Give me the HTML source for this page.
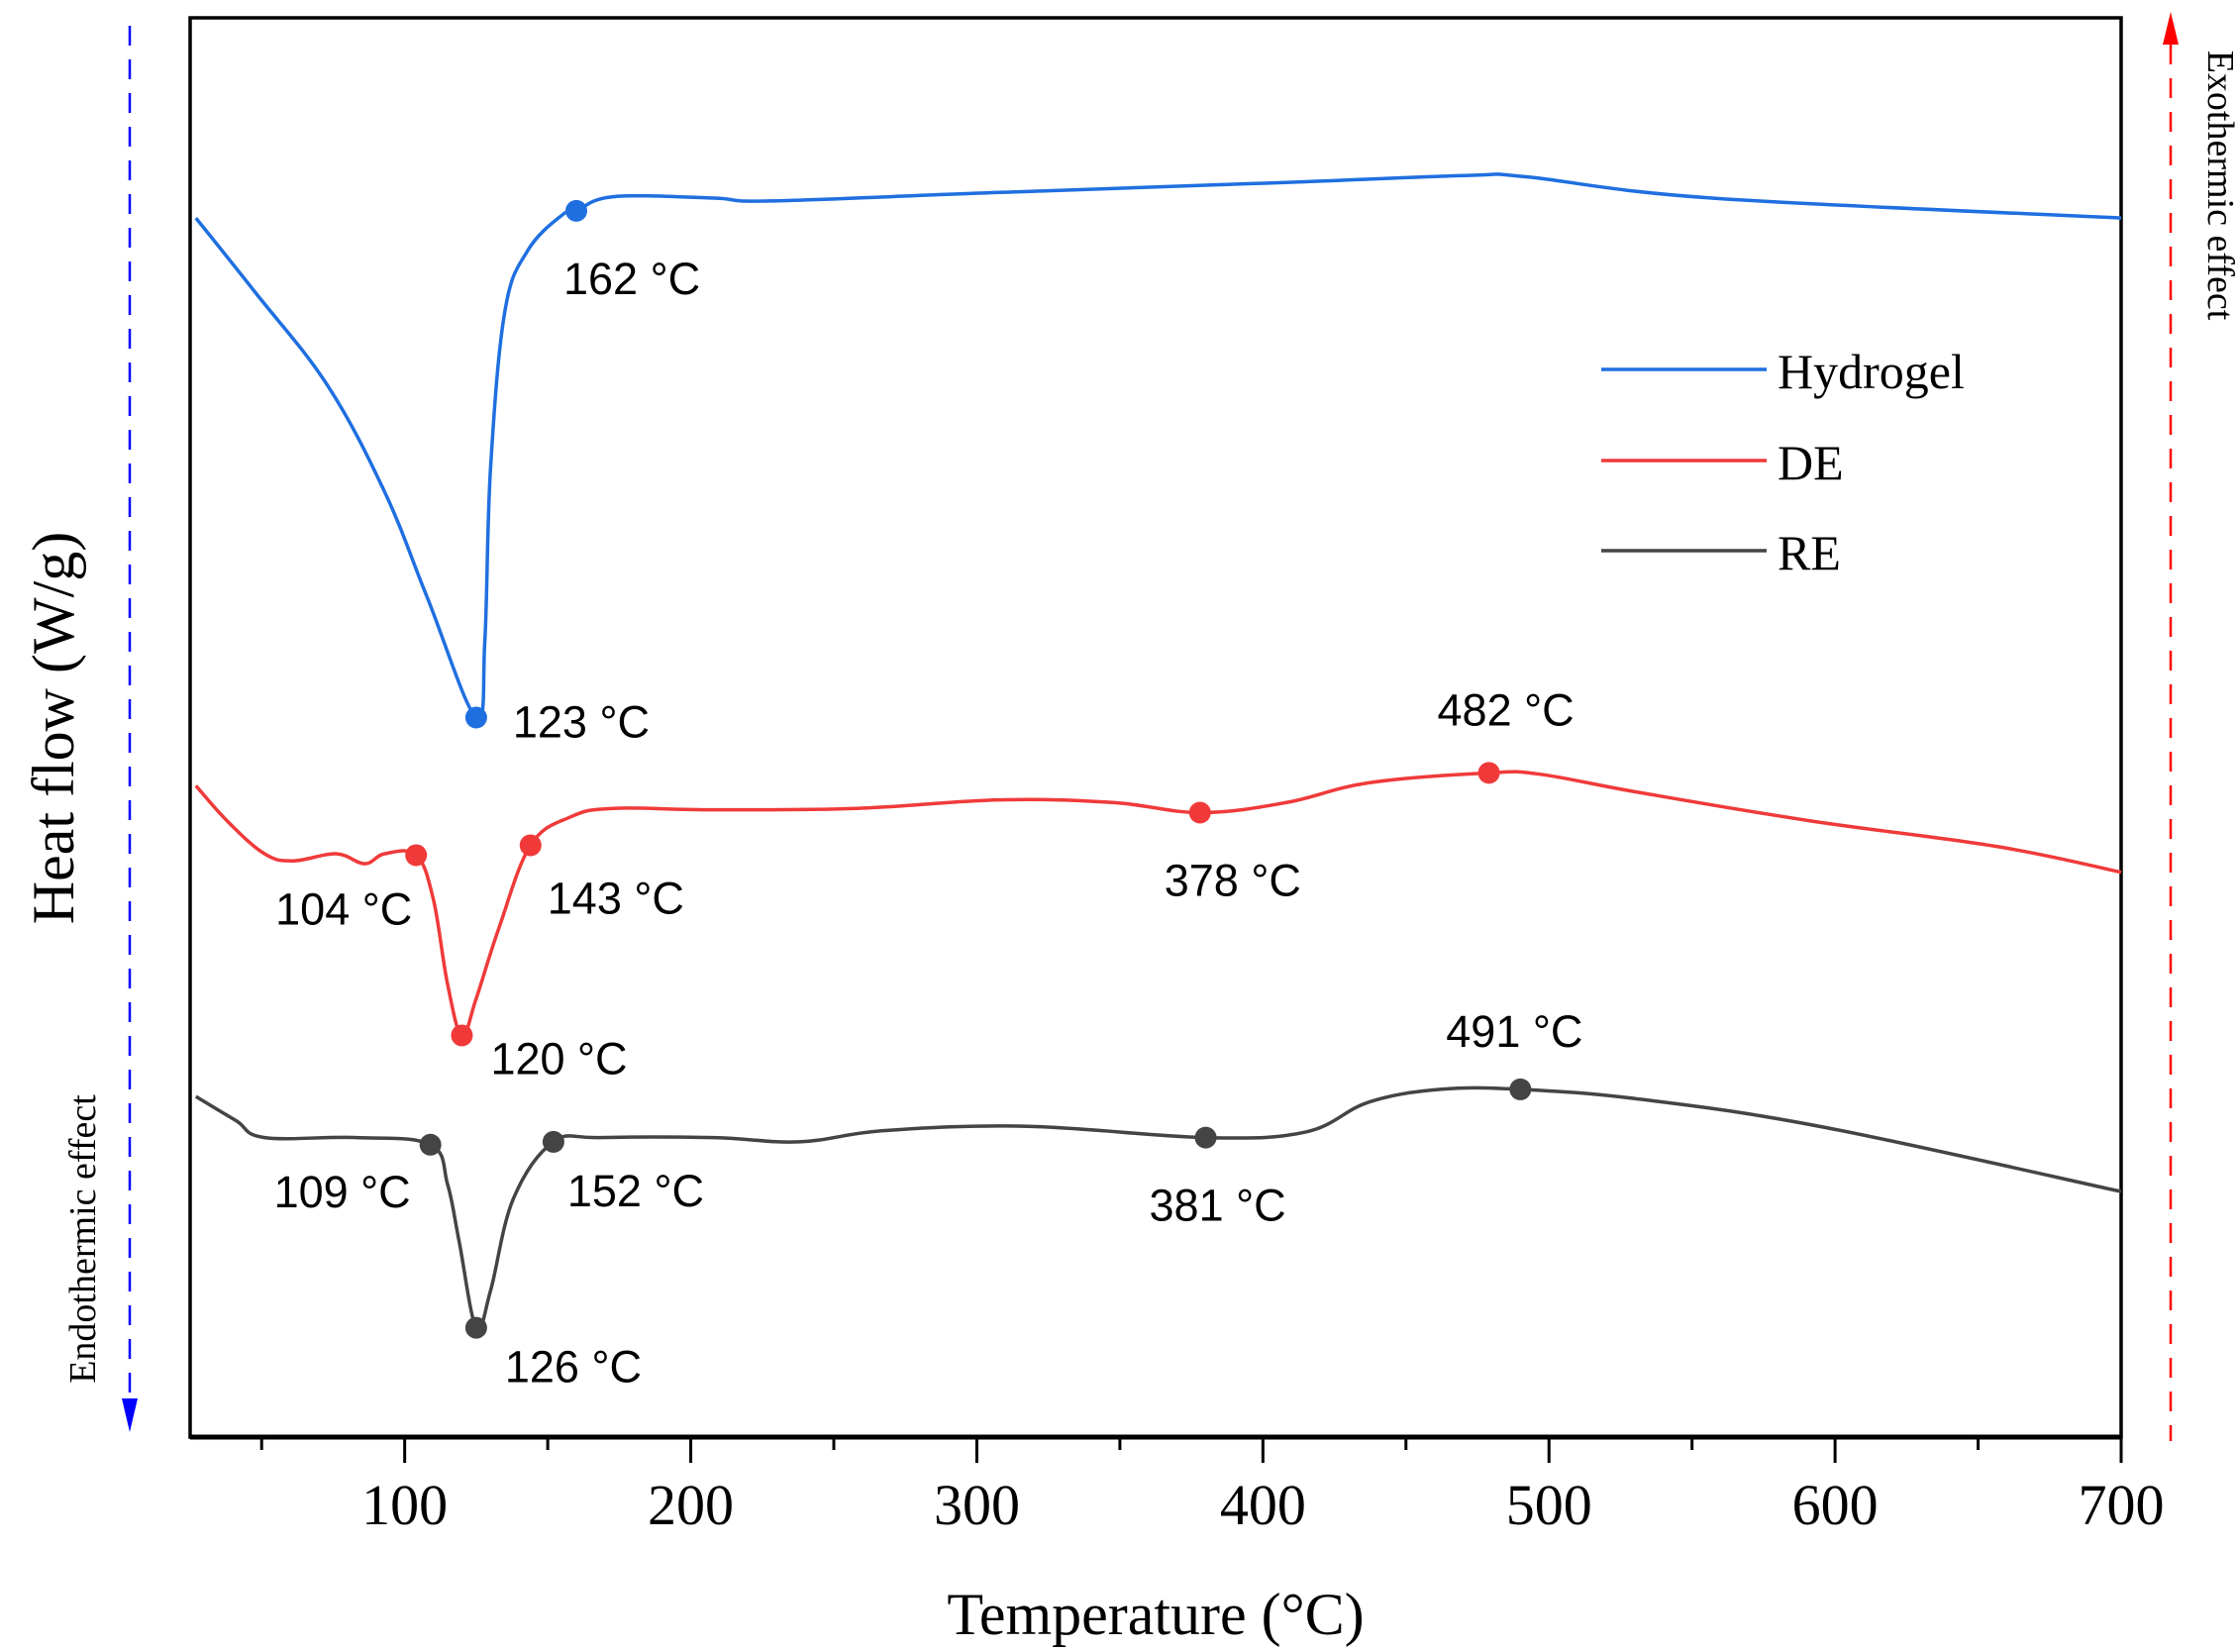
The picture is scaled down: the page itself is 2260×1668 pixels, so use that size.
<!DOCTYPE html>
<html><head><meta charset="utf-8"><style>
html,body{margin:0;padding:0;background:#fff;}
svg{display:block;}
</style></head><body>
<svg id="chart" width="2260" height="1668" viewBox="0 0 2260 1668" xmlns="http://www.w3.org/2000/svg">
<rect width="2260" height="1668" fill="#fff"/>
<g id="plot"></g>
</svg>
<script>
// ---- data ----
const hydrogelT = [27,48,73,93,108,125,128,130,135,143,155,160,173,208,228,308,408,472,492,557,700];
const hydrogelV = [85.9,80.6,74.1,66.6,59.1,50.7,56.1,68.2,79.3,83.6,86.1,86.4,87.4,87.3,87.1,87.7,88.4,88.9,88.8,87.3,85.9];
const deT = [27,38,51,61,76,86,93,104,110,115,120,125,133,144,158,173,208,258,308,348,378,408,437,479,497,532,592,657,700];
const deV = [45.9,43.4,41.1,40.6,41.1,40.4,41.1,41.0,37.9,31.9,28.3,30.9,35.9,41.7,43.7,44.3,44.2,44.3,44.9,44.7,44.0,44.7,46.1,46.8,46.7,45.4,43.4,41.6,39.8];
const reT = [27,41,51,83,109,115,119,125,130,138,152,168,208,238,268,318,380,415,437,462,490,532,597,700];
const reV = [24.0,22.3,21.1,21.1,20.6,17.8,13.8,7.7,10.3,16.8,20.8,21.1,21.1,20.8,21.6,21.9,21.1,21.5,23.6,24.5,24.5,23.8,21.8,17.3];
const hydrogelPeakT = [125,160];
const hydrogelPeakV = [50.7,86.4];
const hydrogelPeakLabels = ["123 °C","162 °C"];
const dePeakT = [104,120,144,378,479];
const dePeakV = [41.0,28.3,41.7,44.0,46.8];
const dePeakLabels = ["104 °C","120 °C","143 °C","378 °C","482 °C"];
const rePeakT = [109,125,152,380,490];
const rePeakV = [20.6,7.7,20.8,21.1,24.5];
const rePeakLabels = ["109 °C","126 °C","152 °C","381 °C","491 °C"];
const xTicks = [100,200,300,400,500,600,700];
const xMinorTicks = [50,150,250,350,450,550,650];
const seriesNames = ["Hydrogel","DE","RE"];

// ---- layout ----
const L=192,R=2142,T=18,B=1451;
const X0=25,X1=700,Y0=0,Y1=100;
function xs(v){return L+(v-X0)/(X1-X0)*(R-L);}
function ys(v){return B-(v-Y0)/(Y1-Y0)*(B-T);}
const NS="http://www.w3.org/2000/svg";
const g=document.getElementById('plot');
function mk(tag,attrs,parent){const e=document.createElementNS(NS,tag);for(const k in attrs)e.setAttribute(k,attrs[k]);(parent||g).appendChild(e);return e;}
function txt(s,attrs){const e=mk('text',attrs);e.textContent=s;return e;}

function smoothPath(px,py){
  let d='M'+px[0].toFixed(1)+','+py[0].toFixed(1);
  for(let i=0;i<px.length-1;i++){
    const x0=px[Math.max(i-1,0)],y0=py[Math.max(i-1,0)];
    const x1=px[i],y1=py[i],x2=px[i+1],y2=py[i+1];
    const x3=px[Math.min(i+2,px.length-1)],y3=py[Math.min(i+2,px.length-1)];
    const t=0.18;
    d+=' C'+(x1+(x2-x0)*t).toFixed(1)+','+(y1+(y2-y0)*t).toFixed(1)+' '+(x2-(x3-x1)*t).toFixed(1)+','+(y2-(y3-y1)*t).toFixed(1)+' '+x2.toFixed(1)+','+y2.toFixed(1);
  }
  return d;
}

// frame
const frame=mk('rect',{x:L,y:T,width:R-L,height:B-T,fill:'none',stroke:'#000','stroke-width':3.5});


const xaxis=mk('line',{x1:L,y1:B,x2:R,y2:B,stroke:'#000','stroke-width':5});



xTicks.forEach(v=>{
  const t=mk('line',{x1:xs(v),y1:B,x2:xs(v),y2:B+26,stroke:'#000','stroke-width':3});
  
  
  const l=txt(String(v),{x:xs(v),y:B+88,'text-anchor':'middle','font-family':'Liberation Serif, serif','font-size':58});
  
  
});
xMinorTicks.forEach(v=>{
  const t=mk('line',{x1:xs(v),y1:B,x2:xs(v),y2:B+13,stroke:'#000','stroke-width':3});
  
  
});

const xt=txt('Temperature (°C)',{x:1167,y:1650,'text-anchor':'middle','font-family':'Liberation Serif, serif','font-size':60});


const yt=txt('Heat flow (W/g)',{x:0,y:0,transform:'translate(74,735) rotate(-90)','text-anchor':'middle','font-family':'Liberation Serif, serif','font-size':60});



// endo/exo arrows
const bl=mk('line',{x1:131,y1:26,x2:131,y2:1420,stroke:'#0000ff','stroke-width':2.5,'stroke-dasharray':'20 14'});


const ba=mk('path',{d:'M123,1412 L139,1412 L131,1446 Z',fill:'#0000ff'});


const et=txt('Endothermic effect',{x:0,y:0,transform:'translate(96,1251) rotate(-90)','text-anchor':'middle','font-family':'Liberation Serif, serif','font-size':38});


const rl=mk('line',{x1:2192,y1:45,x2:2192,y2:1455,stroke:'#ff0000','stroke-width':2.5,'stroke-dasharray':'20 14'});


const ra=mk('path',{d:'M2184,45 L2200,45 L2192,12 Z',fill:'#ff0000'});


const xo=txt('Exothermic effect',{x:0,y:0,transform:'translate(2230,187) rotate(90)','text-anchor':'middle','font-family':'Liberation Serif, serif','font-size':38});



// series
const colors=['#1f6fe0','#f03a3a','#444444'];
const allT=[hydrogelT,deT,reT], allV=[hydrogelV,deV,reV];
const pkT=[hydrogelPeakT,dePeakT,rePeakT], pkV=[hydrogelPeakV,dePeakV,rePeakV], pkL=[hydrogelPeakLabels,dePeakLabels,rePeakLabels];
// label offsets (style): [dx,dy,anchor]
const offs=[
  [[37,20,'start'],[-13,84,'start']],
  [[-4,70,'end'],[29,39,'start'],[17,69,'start'],[33,84,'middle'],[17,-48,'middle']],
  [[-20,63,'end'],[29,55,'start'],[14,65,'start'],[12,84,'middle'],[-6,-43,'middle']]
];
const keys=['hydrogel','de','re'];
for(let s=0;s<3;s++){
  const p=mk('path',{d:smoothPath(allT[s].map(xs),allV[s].map(ys)),fill:'none',stroke:colors[s],'stroke-width':3.5,'stroke-linejoin':'round'});
  
  
  for(let i=0;i<pkT[s].length;i++){
    const cx=xs(pkT[s][i]), cy=ys(pkV[s][i]);
    const c=mk('circle',{cx:cx,cy:cy,r:11,fill:colors[s]});
    
    
    const o=offs[s][i];
    const l=txt(pkL[s][i],{x:cx+o[0],y:cy+o[1],'text-anchor':o[2],'font-family':'Liberation Sans, sans-serif','font-size':45,fill:'#000'});
    
    
  }
}

// legend
const legY=[373,465,556];
for(let s=0;s<3;s++){
  const ll=mk('line',{x1:1617,y1:legY[s],x2:1784,y2:legY[s],stroke:colors[s],'stroke-width':3.5});
  
  
  const lt=txt(seriesNames[s],{x:1795,y:legY[s]+19,'font-family':'Liberation Serif, serif','font-size':50});
  
  
}
</script>
</body></html>
